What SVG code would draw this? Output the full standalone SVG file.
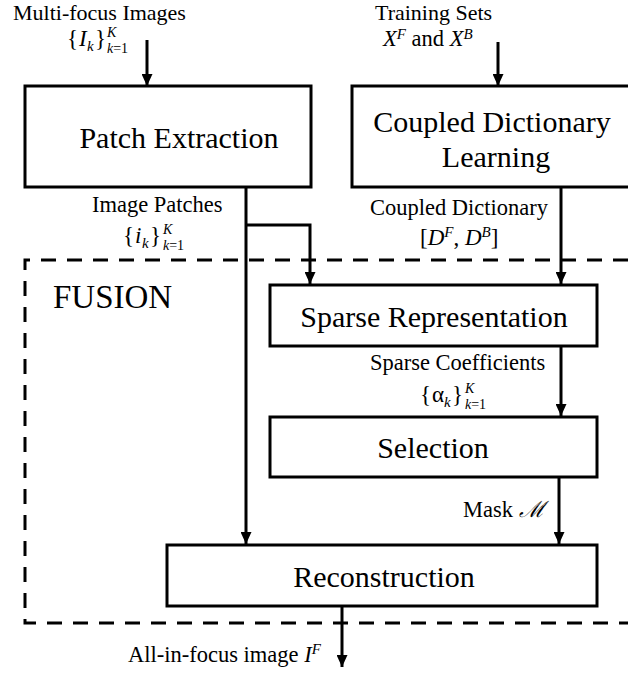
<svg xmlns="http://www.w3.org/2000/svg" width="628" height="673" viewBox="0 0 628 673">
  <style>
    .box { fill: #ffffff; stroke: #000000; stroke-width: 3; }
    .conn { fill: none; stroke: #000000; stroke-width: 3; }
    .fusion { fill: none; stroke: #000000; stroke-width: 3; stroke-dasharray: 15 11; }
    text { font-family: "Liberation Serif", "Times New Roman", serif; fill: #000; }
    .big { font-size: 30px; }
    .lbl { font-size: 22.5px; }
    .top { font-size: 22px; }
    .title { font-size: 33px; }
    .m { font-size: 23px; }
    .it { font-style: italic; }
    .sm { font-size: 15px; }
    .xs { font-size: 14px; }
  </style>
  <defs>
    <marker id="arrow" markerUnits="userSpaceOnUse" markerWidth="12" markerHeight="11" refX="12" refY="5.5" orient="auto">
      <path d="M0,0 L12,5.5 L0,11 z" fill="#000"/>
    </marker>
  </defs>
  <rect width="628" height="673" fill="#ffffff"/>

  <!-- FUSION region boundary (open on the right) -->
  <g id="fusion-region">
    <path class="fusion" d="M628,260 H25 V623 H628"/>
    <text class="title" x="53" y="308">FUSION</text>
  </g>

  <!-- connectors -->
  <g id="connectors">
    <line class="conn" x1="147" y1="40" x2="147" y2="86" marker-end="url(#arrow)"/>
    <line class="conn" x1="498" y1="42" x2="498" y2="86" marker-end="url(#arrow)"/>
    <line class="conn" x1="246" y1="187" x2="246" y2="544" marker-end="url(#arrow)"/>
    <path class="conn" d="M246,225 H310 V284" marker-end="url(#arrow)"/>
    <line class="conn" x1="561" y1="187" x2="561" y2="284" marker-end="url(#arrow)"/>
    <line class="conn" x1="561" y1="346" x2="561" y2="416" marker-end="url(#arrow)"/>
    <line class="conn" x1="559" y1="477" x2="559" y2="544" marker-end="url(#arrow)"/>
    <line class="conn" x1="342" y1="606" x2="342" y2="667" marker-end="url(#arrow)"/>
  </g>

  <g id="patch-extraction">
    <rect class="box" x="25" y="86" width="286" height="101"/>
    <text class="big" x="179" y="148" text-anchor="middle">Patch Extraction</text>
  </g>

  <g id="coupled-dictionary-learning">
    <rect class="box" x="352" y="86" width="290" height="101"/>
    <text class="big" x="492" y="132" text-anchor="middle">Coupled Dictionary</text>
    <text class="big" x="496" y="167" text-anchor="middle">Learning</text>
  </g>

  <g id="sparse-representation">
    <rect class="box" x="270" y="285" width="327" height="61"/>
    <text class="big" x="434" y="327" text-anchor="middle">Sparse Representation</text>
  </g>

  <g id="selection">
    <rect class="box" x="270" y="417" width="327" height="60"/>
    <text class="big" x="433" y="458" text-anchor="middle">Selection</text>
  </g>

  <g id="reconstruction">
    <rect class="box" x="167" y="545" width="430" height="61"/>
    <text class="big" x="384" y="587" text-anchor="middle">Reconstruction</text>
  </g>

  <!-- input / output labels -->
  <g id="label-inputs">
    <text class="lbl top" x="13" y="20">Multi-focus Images</text>
    <text class="m" x="67" y="46">{<tspan class="it" x="79">I</tspan><tspan class="it sm" x="87" y="51">k</tspan><tspan x="95" y="46">}</tspan></text>
    <text class="it xs" x="107" y="37">K</text>
    <text class="xs" x="107" y="53"><tspan class="it">k</tspan>=1</text>
  </g>

  <g id="label-training">
    <text class="lbl top" x="375" y="20">Training Sets</text>
    <text class="lbl" x="383" y="46"><tspan class="it">X</tspan><tspan class="it sm" dy="-7">F</tspan><tspan dy="7"> and </tspan><tspan class="it">X</tspan><tspan class="it sm" dy="-7">B</tspan></text>
  </g>

  <g id="label-patches">
    <text class="lbl" x="92" y="212">Image Patches</text>
    <text class="m" x="123" y="243">{<tspan class="it" x="135">i</tspan><tspan class="it sm" x="142" y="248">k</tspan><tspan x="150" y="243">}</tspan></text>
    <text class="it xs" x="163" y="234">K</text>
    <text class="xs" x="163" y="250"><tspan class="it">k</tspan>=1</text>
  </g>

  <g id="label-dictionary">
    <text class="lbl" x="370" y="215">Coupled Dictionary</text>
    <text class="m" x="420" y="245">[<tspan class="it">D</tspan><tspan class="it sm" dy="-8">F</tspan><tspan dy="8">, </tspan><tspan class="it">D</tspan><tspan class="it sm" dy="-8">B</tspan><tspan dy="8">]</tspan></text>
  </g>

  <g id="label-coefficients">
    <text class="lbl" x="370" y="370">Sparse Coefficients</text>
    <text class="m" x="420" y="402">{<tspan x="432">α</tspan><tspan class="it sm" x="444" y="407">k</tspan><tspan x="452" y="402">}</tspan></text>
    <text class="it xs" x="465" y="393">K</text>
    <text class="xs" x="465" y="409"><tspan class="it">k</tspan>=1</text>
  </g>

  <g id="label-mask">
    <text class="lbl" x="463" y="517">Mask <tspan class="it">ℳ</tspan></text>
  </g>

  <g id="label-output">
    <text class="lbl" x="128" y="662">All-in-focus image <tspan class="it">I</tspan><tspan class="it sm" dy="-8">F</tspan></text>
  </g>
</svg>
